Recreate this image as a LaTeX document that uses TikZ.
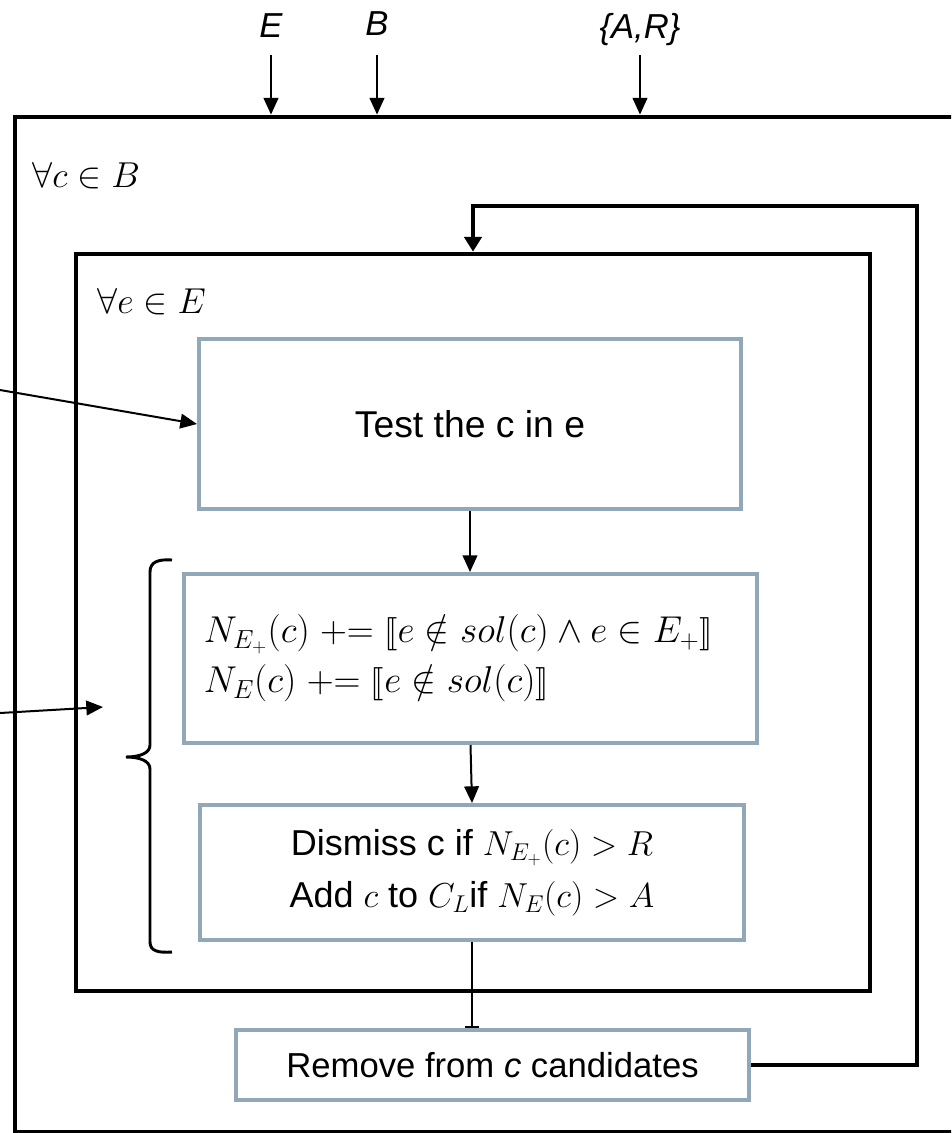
\RequirePackage{fix-cm}
\documentclass[tikz,border=0pt]{standalone}
\usepackage[no-math]{fontspec}
\setmainfont{Liberation Sans}
\usepackage{amssymb}
\usepackage{stmaryrd}
\usetikzlibrary{arrows.meta}

\definecolor{boxgray}{RGB}{145,168,185}
\newcommand{\smallmath}{\fontsize{26}{39}\selectfont}

\tikzset{
  frame/.style={draw=black, line width=3.6pt, inner sep=0pt},
  stepbox/.style={draw=boxgray, line width=3pt, fill=white, inner sep=0pt},
  arr/.style={line width=1.5pt, -{Triangle[length=12.5pt,width=11pt]}},
  loopline/.style={line width=2.4pt, -{Triangle[length=11pt,width=13pt]}},
  toplabel/.style={font=\fontsize{26}{30}\selectfont\itshape, inner sep=0pt, text depth=0pt, anchor=base},
  looplabel/.style={font=\fontsize{27}{32}\selectfont, inner sep=0pt, anchor=base west},
}

\begin{document}
\begin{tikzpicture}[x=0.75pt, y=-0.75pt]
  \useasboundingbox (0,0) rectangle (951,1133);
  \clip (0,0) rectangle (951,1133);

  % nested loop frames
  \node[frame, minimum width=716.25pt, minimum height=761.25pt] (outer) at (492.5,624.5) {};
  \node[frame, minimum width=595.5pt, minimum height=552.75pt] (inner) at (473,622.5) {};

  % loop headers
  \node[looplabel] (forc) at (32,187) {$\forall c \in B$};
  \node[looplabel] (fore) at (97,313) {$\forall e \in E$};

  % inputs
  \node[toplabel] (E) at (271,37) {E};
  \node[toplabel] (B) at (377,35) {B};
  \node[toplabel] (AR) at (640,38) {\{A,R\}};
  \draw[arr, shorten <=13.5pt] (E.south) -- (E.south |- outer.north);
  \draw[arr, shorten <=15pt] (B.south) -- (B.south |- outer.north);
  \draw[arr, shorten <=12.75pt] (AR.south) -- (AR.south |- outer.north);

  % steps
  \node[stepbox, minimum width=406.5pt, minimum height=127.5pt,
        font=\fontsize{28}{34}\selectfont] (test) at (470,424) {Test the c in e};
  \node[stepbox, minimum width=429.75pt, minimum height=126.75pt,
        text width=400pt, align=left, font=\fontsize{28}{37.5}\selectfont] (count) at (470.5,658.5)
        {$N_{E_+}(c) \mathrel{+{=}} \llbracket e \notin sol(c) \land e \in E_+ \rrbracket$\\
         $N_E(c) \mathrel{+{=}} \llbracket e \notin sol(c) \rrbracket$};
  \node[stepbox, minimum width=408pt, minimum height=101.25pt, align=center,
        font=\fontsize{27}{39}\selectfont] (decide) at (472,872.5)
        {Dismiss c if {\smallmath$N_{E_+}(c) > R$}\\
         Add {\smallmath$c$} to {\smallmath$C_L$}if {\smallmath$N_E(c) > A$}};
  \node[stepbox, minimum width=384.75pt, minimum height=52.5pt,
        font=\fontsize{26}{30}\selectfont] (remove) at (492.5,1065)
        {Remove from \textit{c} candidates};

  % flow between steps
  \draw[arr] (test.south) -- (test.south |- count.north);
  \draw[arr] (count.south) -- (decide.north);
  \draw[line width=1.5pt, -{Bar[width=11pt]}] (decide.south) -- (decide.south |- remove.north);

  % back to the next element
  \coordinate (loopcorner) at (917,206);
  \draw[loopline] (remove.east) -| (loopcorner) -| (inner.north);

  % incoming connectors from the left
  \coordinate (src1) at (0,390);
  \coordinate (src2) at (0,713);
  \coordinate (bracein) at (103,707);
  \draw[arr] (src1) -- (test.west);
  \draw[arr] (src2) -- (bracein);

  % brace grouping the counting and decision steps
  \draw[line width=2.2pt] (172,560) .. controls (158,559) and (150,562) .. (150,572)
    -- (150,745) .. controls (150,753) and (140,757) .. (126,757)
    .. controls (140,757) and (150,761) .. (150,769)
    -- (150,942) .. controls (150,951) and (158,953) .. (172,952);
\end{tikzpicture}
\end{document}
